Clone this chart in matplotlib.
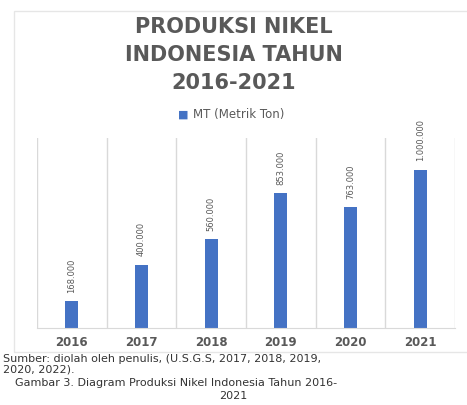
import matplotlib.pyplot as plt

years = ["2016", "2017", "2018", "2019", "2020", "2021"]
production = [168000, 400000, 560000, 853000, 763000, 1000000]
value_labels = ["168.000", "400.000", "560.000", "853.000", "763.000", "1.000.000"]

bar_color = "#4472c4"
text_gray = "#595959"
grid_gray = "#d9d9d9"

fig = plt.figure(figsize=(4.67, 4.05), dpi=100)

# chart frame
frame = plt.Rectangle((14 / 467, 1 - 352 / 405), 460 / 467, 341 / 405,
                      transform=fig.transFigure, fill=False, edgecolor="#e6e6e6", lw=1)
fig.patches.append(frame)

ax = fig.add_axes([37 / 467, 77 / 405, 418 / 467, 190 / 405])
x = range(len(years))
ax.bar(x, production, width=0.19, color=bar_color)
ax.set_xlim(-0.5, len(years) - 0.5)
ax.set_ylim(0, 1.2e6)

for i, (v, lab) in enumerate(zip(production, value_labels)):
    ax.annotate(lab, (i, v), xytext=(0, 6), textcoords="offset points",
                rotation=90, ha="center", va="bottom", fontsize=6, color=text_gray)

# vertical separators between categories
for b in [i - 0.5 for i in range(len(years) + 1)]:
    ax.axvline(b, color=grid_gray, lw=1, zorder=0)

for s in ["top", "left", "right"]:
    ax.spines[s].set_visible(False)
ax.spines["bottom"].set_color(grid_gray)
ax.set_yticks([])
ax.set_xticks(list(x))
ax.set_xticklabels(years, fontsize=8.5, fontweight="bold", color=text_gray)
ax.tick_params(axis="x", length=0, pad=6)

fig.text(0.5, 1 - 55 / 405, "PRODUKSI NIKEL\nINDONESIA TAHUN\n2016-2021", ha="center", va="center",
         fontsize=15, fontweight="bold", color=text_gray, linespacing=1.5)

# legend
fig.text(183 / 467, 1 - 115 / 405, "\u25a0", ha="center", va="center", fontsize=8, color=bar_color)
fig.text(193 / 467, 1 - 115 / 405, "MT (Metrik Ton)", ha="left", va="center", fontsize=8.5, color=text_gray)

# caption
fig.text(3 / 467, 1 - 364 / 405, "Sumber: diolah oleh penulis, (U.S.G.S, 2017, 2018, 2019,\n2020, 2022).",
         ha="left", va="center", fontsize=8, color="#333333", linespacing=1.1)
fig.text(15 / 467, 1 - 383 / 405, "Gambar 3. Diagram Produksi Nikel Indonesia Tahun 2016-",
         ha="left", va="center", fontsize=8, color="#333333")
fig.text(233 / 467, 1 - 396 / 405, "2021", ha="center", va="center", fontsize=8, color="#333333")

fig.savefig("out.png", dpi=100)
